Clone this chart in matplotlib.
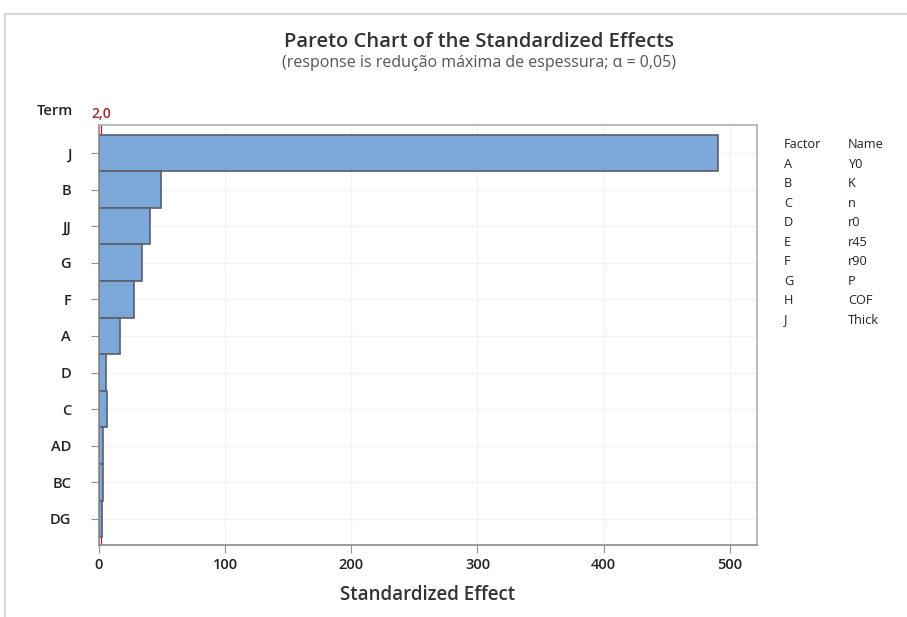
import matplotlib
matplotlib.use("Agg")
import matplotlib.pyplot as plt
from matplotlib.lines import Line2D

terms = ["J", "B", "JJ", "G", "F", "A", "D", "C", "AD", "BC", "DG"]
effects = [490.6, 49.2, 40.6, 34.2, 28.1, 17.0, 5.7, 6.2, 3.3, 3.1, 2.3]
ref_value = 2.0
ref_label = "2,0"
x_ticks = [0, 100, 200, 300, 400, 500]
factors = ["A", "B", "C", "D", "E", "F", "G", "H", "J"]
names = ["Y0", "K", "n", "r0", "r45", "r90", "P", "COF", "Thick"]

plt.rcParams['font.family'] = ['Open Sans', 'DejaVu Sans']

W, H = 907, 617
fig = plt.figure(figsize=(W / 100, H / 100), dpi=100)
fig.patch.set_facecolor('white')

# outer panel frame
fig.add_artist(Line2D([5 / W, 1.0], [1 - 14 / H, 1 - 14 / H], color='#d0d0d0', lw=1.2))
fig.add_artist(Line2D([5 / W, 5 / W], [1 - 14 / H, 0.0], color='#d0d0d0', lw=1.2))

ax = fig.add_axes([98.8 / W, 1 - 544.5 / H, (757 - 98.8) / W, (544.5 - 124.7) / H])

pos = list(range(len(terms)))
ax.axvline(ref_value, color='#c8102e', lw=0.9, zorder=1)
ax.barh(pos, effects, height=1.0, color='#7ba7d9', edgecolor='#5a5e6a', linewidth=1.2, zorder=2)

ax.set_xlim(0, 521.5)
ax.set_ylim(len(terms) - 1 + 0.697, -0.773)
ax.set_yticks(pos)
ax.set_yticklabels(terms, fontsize=10.5, fontweight='semibold', color='#222222')
ax.set_xticks(x_ticks)
ax.set_xticklabels([str(v) for v in x_ticks], fontsize=10.5, fontweight='semibold', color='#222222')
ax.tick_params(axis='y', length=6, color='#909090', pad=14)
ax.tick_params(axis='x', length=6, color='#909090', pad=4)

ax.grid(True, color='#f3f3f3', lw=1.0, zorder=0)
ax.set_axisbelow(True)
for s in ['left', 'bottom']:
    ax.spines[s].set_color('#8a8a8a')
    ax.spines[s].set_linewidth(1.2)
for s in ['top', 'right']:
    ax.spines[s].set_color('#b0b0b0')
    ax.spines[s].set_linewidth(1.2)

ax.set_xlabel("Standardized Effect", fontsize=13.5, fontweight='semibold', color='#333333', labelpad=9)

# reference label
ax.text(ref_value, 1.01, ref_label, transform=ax.get_xaxis_transform(), ha='center', va='bottom',
        fontsize=10, fontweight='semibold', color='#a4262c')
fig.text(55 / W, 1 - 111 / H, "Term", ha='center', va='center', fontsize=10.5,
         fontweight='semibold', color='#222222')

# titles
fig.text(479 / W, 1 - 42 / H, "Pareto Chart of the Standardized Effects", ha='center', va='center',
         fontsize=14.5, fontweight='semibold', color='#333333')
fig.text(478.5 / W, 1 - 63 / H, "(response is redução máxima de espessura; \u03b1 = 0,05)", ha='center',
         va='center', fontsize=11.5, color='#555555')

# factor table
y0 = 145
dy = (320 - 145) / 9
fig.text(784 / W, 1 - y0 / H, "Factor", ha='left', va='center', fontsize=9.2, color='#222222')
fig.text(848 / W, 1 - y0 / H, "Name", ha='left', va='center', fontsize=9.2, color='#222222')
for i, (f, n) in enumerate(zip(factors, names)):
    y = y0 + dy * (i + 1)
    fig.text(784 / W, 1 - y / H, f, ha='left', va='center', fontsize=9.2, color='#222222')
    fig.text(848 / W, 1 - y / H, n, ha='left', va='center', fontsize=9.2, color='#222222')

fig.savefig("out.png", dpi=100, facecolor='white')
